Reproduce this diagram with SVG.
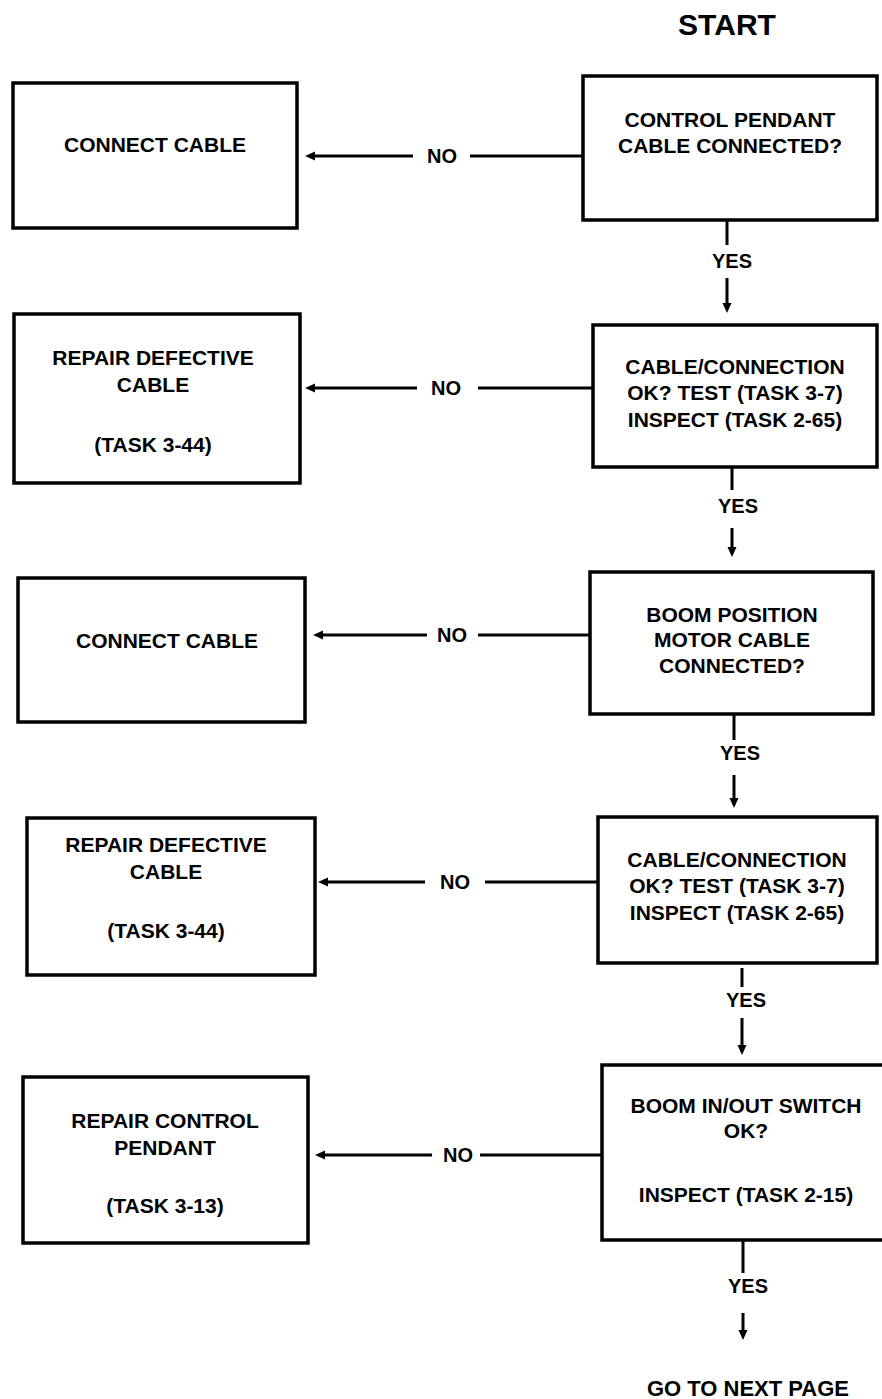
<svg xmlns="http://www.w3.org/2000/svg" width="882" height="1399" viewBox="0 0 882 1399">
<defs>
<style>
.box{fill:#fff;stroke:#000;stroke-width:3.5}
.t{font-family:"Liberation Sans",Arial,sans-serif;font-weight:bold;font-size:21px;fill:#000;text-anchor:middle}
.lbl{font-family:"Liberation Sans",Arial,sans-serif;font-weight:bold;font-size:20px;fill:#000;text-anchor:middle}
.big{font-family:"Liberation Sans",Arial,sans-serif;font-weight:bold;fill:#000;text-anchor:middle}
.c{stroke:#000;stroke-width:3;fill:none}
.a{stroke:#000;stroke-width:3;fill:none;marker-end:url(#ah)}
</style>
<marker id="ah" markerUnits="userSpaceOnUse" markerWidth="10" markerHeight="10" refX="2" refY="4.5" orient="auto">
<path d="M0,0 L10,4.5 L0,9 z" fill="#000"/>
</marker>
</defs>
<rect width="882" height="1399" fill="#fff"/>
<text class="big" x="727" y="35" font-size="30">START</text>
<g id="r1"><rect class="box" x="583" y="76" width="294" height="144"/>
<text class="t" x="730" y="127">CONTROL PENDANT</text>
<text class="t" x="730" y="153">CABLE CONNECTED?</text></g>
<g id="l1"><rect class="box" x="13" y="83" width="284" height="145"/>
<text class="t" x="155" y="152">CONNECT CABLE</text></g>
<g id="r2"><rect class="box" x="593" y="325" width="284" height="142"/>
<text class="t" x="735" y="374">CABLE/CONNECTION</text>
<text class="t" x="735" y="400">OK? TEST (TASK 3-7)</text>
<text class="t" x="735" y="427">INSPECT (TASK 2-65)</text></g>
<g id="l2"><rect class="box" x="14" y="314" width="286" height="169"/>
<text class="t" x="153" y="365">REPAIR DEFECTIVE</text>
<text class="t" x="153" y="392">CABLE</text>
<text class="t" x="153" y="452">(TASK 3-44)</text></g>
<g id="r3"><rect class="box" x="590" y="572" width="283" height="142"/>
<text class="t" x="732" y="622">BOOM POSITION</text>
<text class="t" x="732" y="647">MOTOR CABLE</text>
<text class="t" x="732" y="673">CONNECTED?</text></g>
<g id="l3"><rect class="box" x="18" y="578" width="287" height="144"/>
<text class="t" x="167" y="648">CONNECT CABLE</text></g>
<g id="r4"><rect class="box" x="598" y="817" width="279" height="146"/>
<text class="t" x="737" y="867">CABLE/CONNECTION</text>
<text class="t" x="737" y="893">OK? TEST (TASK 3-7)</text>
<text class="t" x="737" y="920">INSPECT (TASK 2-65)</text></g>
<g id="l4"><rect class="box" x="27" y="818" width="288" height="157"/>
<text class="t" x="166" y="852">REPAIR DEFECTIVE</text>
<text class="t" x="166" y="879">CABLE</text>
<text class="t" x="166" y="938">(TASK 3-44)</text></g>
<g id="r5"><rect class="box" x="602" y="1065" width="290" height="175"/>
<text class="t" x="746" y="1113">BOOM IN/OUT SWITCH</text>
<text class="t" x="746" y="1138">OK?</text>
<text class="t" x="746" y="1202">INSPECT (TASK 2-15)</text></g>
<g id="l5"><rect class="box" x="23" y="1077" width="285" height="166"/>
<text class="t" x="165" y="1128">REPAIR CONTROL</text>
<text class="t" x="165" y="1155">PENDANT</text>
<text class="t" x="165" y="1213">(TASK 3-13)</text></g>
<text class="big" x="748" y="1396" font-size="22">GO TO NEXT PAGE</text>
<g id="connectors">
<line class="c" x1="583" y1="156" x2="470" y2="156"/>
<line class="a" x1="413" y1="156" x2="313" y2="156"/>
<text class="lbl" x="442" y="163">NO</text>
<line class="c" x1="727" y1="220" x2="727" y2="245"/>
<text class="lbl" x="732" y="268">YES</text>
<line class="a" x1="727" y1="278" x2="727" y2="305"/>

<line class="c" x1="593" y1="388" x2="478" y2="388"/>
<line class="a" x1="417" y1="388" x2="313" y2="388"/>
<text class="lbl" x="446" y="395">NO</text>
<line class="c" x1="732" y1="467" x2="732" y2="490"/>
<text class="lbl" x="738" y="513">YES</text>
<line class="a" x1="732" y1="528" x2="732" y2="549"/>

<line class="c" x1="590" y1="635" x2="478" y2="635"/>
<line class="a" x1="427" y1="635" x2="321" y2="635"/>
<text class="lbl" x="452" y="642">NO</text>
<line class="c" x1="734" y1="714" x2="734" y2="740"/>
<text class="lbl" x="740" y="760">YES</text>
<line class="a" x1="734" y1="775" x2="734" y2="800"/>

<line class="c" x1="598" y1="882" x2="485" y2="882"/>
<line class="a" x1="425" y1="882" x2="326" y2="882"/>
<text class="lbl" x="455" y="889">NO</text>
<line class="c" x1="742" y1="968" x2="742" y2="987"/>
<text class="lbl" x="746" y="1007">YES</text>
<line class="a" x1="742" y1="1018" x2="742" y2="1047"/>

<line class="c" x1="602" y1="1155" x2="480" y2="1155"/>
<line class="a" x1="432" y1="1155" x2="323" y2="1155"/>
<text class="lbl" x="458" y="1162">NO</text>
<line class="c" x1="743" y1="1240" x2="743" y2="1273"/>
<text class="lbl" x="748" y="1293">YES</text>
<line class="a" x1="743" y1="1313" x2="743" y2="1332"/>
</g>
</svg>
